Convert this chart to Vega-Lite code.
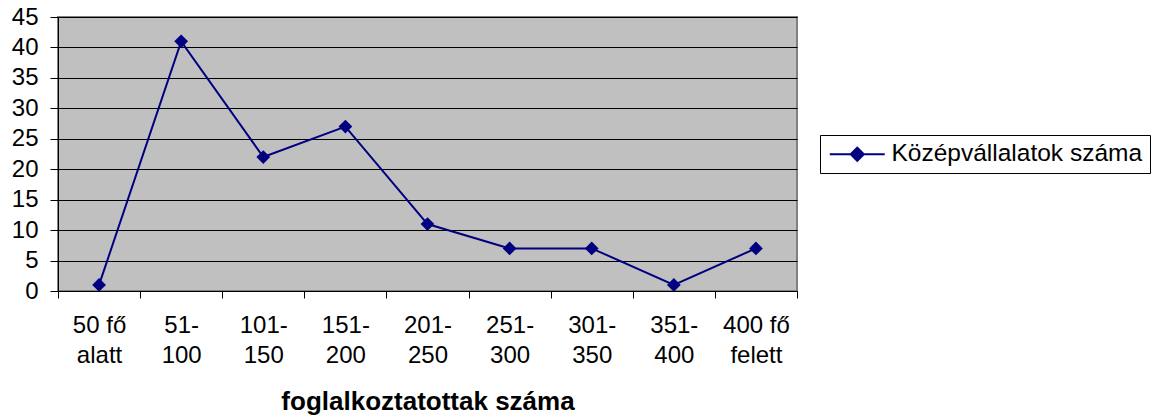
{
  "$schema": "https://vega.github.io/schema/vega-lite/v6.json",
  "autosize": {"type": "none"},
  "padding": {"left": 58, "top": 17, "right": 360, "bottom": 126},
  "width": 739,
  "height": 274,
  "background": "white",
  "config": {
    "font": "Liberation Sans",
    "view": {"fill": "#C0C0C0", "stroke": "#808080", "strokeWidth": 2}
  },
  "data": {
    "values": [
      {"kategoria": "50 fő|alatt", "sorozat": "Középvállalatok száma", "ertek": 1},
      {"kategoria": "51-|100", "sorozat": "Középvállalatok száma", "ertek": 41},
      {"kategoria": "101-|150", "sorozat": "Középvállalatok száma", "ertek": 22},
      {"kategoria": "151-|200", "sorozat": "Középvállalatok száma", "ertek": 27},
      {"kategoria": "201-|250", "sorozat": "Középvállalatok száma", "ertek": 11},
      {"kategoria": "251-|300", "sorozat": "Középvállalatok száma", "ertek": 7},
      {"kategoria": "301-|350", "sorozat": "Középvállalatok száma", "ertek": 7},
      {"kategoria": "351-|400", "sorozat": "Középvállalatok száma", "ertek": 1},
      {"kategoria": "400 fő|felett", "sorozat": "Középvállalatok száma", "ertek": 7}
    ]
  },
  "mark": {
    "type": "line",
    "strokeWidth": 2,
    "point": {"shape": "diamond", "filled": true, "size": 190, "fill": "#000080", "color": "#000080"}
  },
  "encoding": {
    "x": {
      "field": "kategoria",
      "type": "nominal",
      "sort": null,
      "scale": {"type": "band", "paddingInner": 0, "paddingOuter": 0},
      "axis": {
        "title": "foglalkoztatottak száma",
        "titleFontSize": 26,
        "titleFontWeight": "bold",
        "titleColor": "black",
        "titlePadding": 21,
        "labelExpr": "split(datum.label, '|')",
        "labelAngle": 0,
        "labelFontSize": 24,
        "labelColor": "black",
        "labelLineHeight": 30,
        "labelPadding": 15,
        "labelBaseline": "top",
        "tickBand": "extent",
        "ticks": true,
        "tickSize": 7,
        "tickColor": "black",
        "domainColor": "black",
        "domainWidth": 1,
        "grid": false
      }
    },
    "y": {
      "field": "ertek",
      "type": "quantitative",
      "scale": {"domain": [0, 45], "nice": false},
      "axis": {
        "title": null,
        "values": [0, 5, 10, 15, 20, 25, 30, 35, 40, 45],
        "labelFontSize": 24,
        "labelColor": "black",
        "labelPadding": 12,
        "tickSize": 8,
        "tickColor": "black",
        "domainColor": "black",
        "grid": true,
        "gridColor": "black",
        "gridWidth": 1,
        "gridOpacity": 1
      }
    },
    "color": {
      "field": "sorozat",
      "type": "nominal",
      "scale": {"range": ["#000080"]},
      "legend": {
        "title": null,
        "orient": "none",
        "legendX": 762,
        "legendY": 118,
        "strokeColor": "black",
        "fillColor": "white",
        "padding": 7,
        "labelFontSize": 24.5,
        "labelLimit": 400,
        "labelColor": "black",
        "labelOffset": 40,
        "symbolType": "M-0.95,-0.1L4.55,-0.1L4.55,0.1L-0.95,0.1Z M1.8,-0.8L2.6,0L1.8,0.8L1,0Z",
        "symbolSize": 400,
        "symbolStrokeWidth": 0,
        "symbolFillColor": "#000080",
        "symbolOpacity": 1
      }
    }
  }
}
